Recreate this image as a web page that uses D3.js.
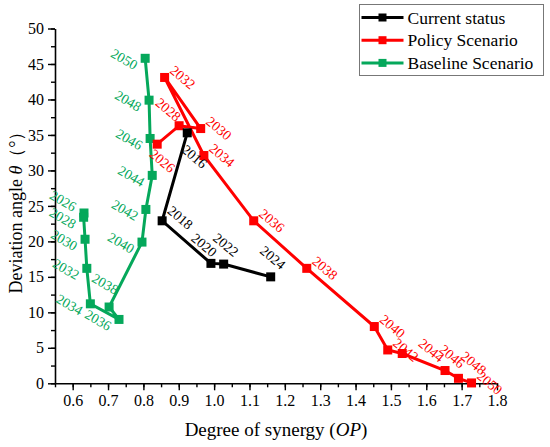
<!DOCTYPE html>
<html>
<head>
<meta charset="utf-8">
<script src="https://cdn.jsdelivr.net/npm/d3@7"></script>
<style>
  body { margin: 0; background: #fff; }
  svg { display: block; }
  svg text, svg tspan { font-family: "Liberation Serif", "Times New Roman", serif; }
</style>
</head>
<body>
<div id="chart"></div>
<script>
const width = 550;
const height = 447;

// Data ////////////////////////////////////////////
const currentYears = [2016, 2018, 2020, 2022, 2024];
const currentOP = [0.924, 0.853, 0.991, 1.027, 1.160];
const currentTheta = [35.3, 22.9, 16.9, 16.8, 15.0];

const policyYears = [2026, 2028, 2030, 2032, 2034, 2036, 2038, 2040, 2042, 2044, 2046, 2048, 2050];
const policyOP = [0.839, 0.901, 0.962, 0.860, 0.971, 1.112, 1.262, 1.453, 1.491, 1.532, 1.653, 1.691, 1.728];
const policyTheta = [33.7, 36.3, 35.9, 43.1, 32.1, 22.9, 16.2, 8.0, 4.7, 4.2, 1.8, 0.7, 0.05];

const baselineYears = [2026, 2028, 2030, 2032, 2034, 2036, 2038, 2040, 2042, 2044, 2046, 2048, 2050];
const baselineOP = [0.632, 0.631, 0.635, 0.640, 0.650, 0.731, 0.703, 0.796, 0.807, 0.825, 0.819, 0.816, 0.805];
const baselineTheta = [24.0, 23.4, 20.3, 16.2, 11.2, 9.0, 10.75, 19.9, 24.5, 29.3, 34.5, 39.9, 45.8];

const seriesNames = ["Current status", "Policy Scenario", "Baseline Scenario"];
const xTicks = [0.6, 0.7, 0.8, 0.9, 1.0, 1.1, 1.2, 1.3, 1.4, 1.5, 1.6, 1.7, 1.8];
const yTicks = [0, 5, 10, 15, 20, 25, 30, 35, 40, 45, 50];

// Styles //////////////////////////////////////////
const colors = ["#000000", "#ff0000", "#05a85b"];
const fontFamily = '"Liberation Serif", "Times New Roman", serif';

// year label placement (px offsets from point), default per series + overrides
const labelStyle = [
  { dx: 2, dy: -19, rot: 40, extra: { 2016: [7, 24], 2018: [18, -3], 2020: [-7, -18] } },
  { dx: 18, dy: 0, rot: 40, extra: { 2028: [-11, -16], 2026: [5, 17], 2044: [29, -3], 2046: [7, -14], 2048: [15, -15] } },
  { dx: -21, dy: 1, rot: 30, extra: { 2038: [-4, -23], 2026: [-21, -12] } }
];

// Build series from arrays
const zip = (years, xs, ys) => years.map((yr, i) => ({ year: yr, x: xs[i], y: ys[i] }));
const series = [
  zip(currentYears, currentOP, currentTheta),
  zip(policyYears, policyOP, policyTheta),
  zip(baselineYears, baselineOP, baselineTheta)
];

// Scales //////////////////////////////////////////
const x = d3.scaleLinear().domain([0.55, 1.8]).range([55, 497]);
const y = d3.scaleLinear().domain([0, 50]).range([383.3, 28.5]);

const svg = d3
  .select("#chart")
  .append("svg")
  .attr("width", width)
  .attr("height", height)
  .attr("font-family", fontFamily);

// Axes ////////////////////////////////////////////
const xMinor = d3.range(0.55, 1.8001, 0.05);
const yMinor = d3.range(0, 50.001, 2.5);

const styleTicks = g =>
  g.selectAll("text")
    .attr("font-size", 16)
    .attr("fill", "#000")
    .style("font-family", fontFamily);

const xAxisG = svg.append("g").attr("transform", `translate(0,${y(0)})`);
xAxisG
  .call(d3.axisBottom(x).tickValues(xMinor).tickSize(4).tickFormat(""))
  .call(g => g.select(".domain").remove());
xAxisG
  .append("g")
  .call(d3.axisBottom(x).tickValues(xTicks).tickSize(7).tickSizeOuter(0).tickPadding(4).tickFormat(d3.format(".1f")))
  .call(g => g.select(".domain").attr("stroke-width", 1.6))
  .call(styleTicks);
xAxisG.selectAll("line").attr("stroke", "#000").attr("stroke-width", 1.4);
xAxisG.attr("font-family", fontFamily);

const yAxisG = svg.append("g").attr("transform", `translate(${x(0.55)},0)`);
yAxisG
  .call(d3.axisLeft(y).tickValues(yMinor).tickSize(4).tickFormat(""))
  .call(g => g.select(".domain").remove());
yAxisG
  .append("g")
  .call(d3.axisLeft(y).tickValues(yTicks).tickSize(7).tickSizeOuter(0).tickPadding(4))
  .call(g => g.select(".domain").attr("stroke-width", 1.6))
  .call(styleTicks);
yAxisG.selectAll("line").attr("stroke", "#000").attr("stroke-width", 1.4);
yAxisG.attr("font-family", fontFamily);

// Axis titles
const xTitle = svg
  .append("text")
  .attr("x", 276)
  .attr("y", 436)
  .attr("text-anchor", "middle")
  .attr("font-size", 19)
  .attr("fill", "#000")
  .style("font-family", fontFamily);
xTitle.append("tspan").text("Degree of synergy (");
xTitle.append("tspan").attr("font-style", "italic").text("OP");
xTitle.append("tspan").text(")");

const yTitle = svg
  .append("text")
  .attr("transform", "translate(22,208) rotate(-90)")
  .attr("text-anchor", "middle")
  .attr("font-size", 18)
  .attr("fill", "#000")
  .style("font-family", fontFamily);
yTitle.append("tspan").text("Deviation angle ");
yTitle.append("tspan").attr("font-style", "italic").text("θ");
yTitle.append("tspan").text("（°）");

// Series //////////////////////////////////////////
const line = d3
  .line()
  .x(d => x(d.x))
  .y(d => y(d.y));

const markerSize = 9;
const drawOrder = [2, 1, 0];

drawOrder.forEach(i => {
  const data = series[i];
  const g = svg.append("g");
  g.append("path")
    .datum(data)
    .attr("d", line)
    .attr("fill", "none")
    .attr("stroke", colors[i])
    .attr("stroke-width", 3)
    .attr("stroke-linejoin", "miter");
  g.selectAll("rect")
    .data(data)
    .enter()
    .append("rect")
    .attr("x", d => x(d.x) - markerSize / 2)
    .attr("y", d => y(d.y) - markerSize / 2)
    .attr("width", markerSize)
    .attr("height", markerSize)
    .attr("fill", colors[i]);
});

// Year labels
series.forEach((data, i) => {
  const st = labelStyle[i];
  svg
    .append("g")
    .selectAll("text")
    .data(data)
    .enter()
    .append("text")
    .attr("transform", d => {
      const off = st.extra[d.year] || [st.dx, st.dy];
      return `translate(${x(d.x) + off[0]},${y(d.y) + off[1]}) rotate(${st.rot})`;
    })
    .attr("text-anchor", "middle")
    .attr("dominant-baseline", "central")
    .attr("font-size", 14)
    .attr("fill", colors[i])
    .style("font-family", fontFamily)
    .text(d => d.year);
});

// Legend //////////////////////////////////////////
const legend = svg.append("g").attr("transform", "translate(359.5,4.5)");
legend
  .append("rect")
  .attr("width", 184)
  .attr("height", 71)
  .attr("fill", "#fff")
  .attr("stroke", "#777")
  .attr("stroke-width", 1);

seriesNames.forEach((name, i) => {
  const ly = 13 + i * 22.7;
  legend
    .append("line")
    .attr("x1", 2)
    .attr("x2", 44)
    .attr("y1", ly)
    .attr("y2", ly)
    .attr("stroke", colors[i])
    .attr("stroke-width", 3);
  legend
    .append("rect")
    .attr("x", 23 - 4)
    .attr("y", ly - 4)
    .attr("width", 8)
    .attr("height", 8)
    .attr("fill", colors[i]);
  legend
    .append("text")
    .attr("x", 48)
    .attr("y", ly)
    .attr("dominant-baseline", "central")
    .attr("font-size", 17.5)
    .attr("fill", "#000")
    .style("font-family", fontFamily)
    .text(name);
});
</script>
</body>
</html>
